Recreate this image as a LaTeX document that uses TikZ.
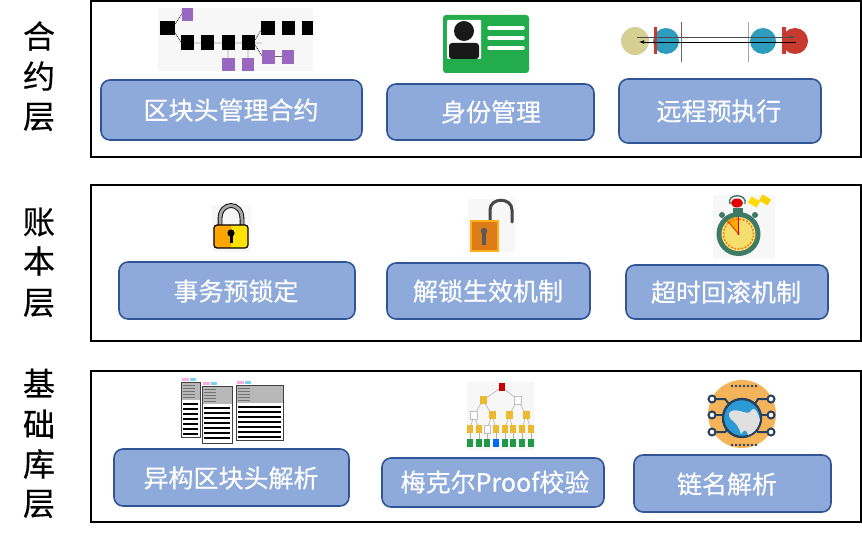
\documentclass[tikz,border=0pt]{standalone}
\usepackage{fontspec}
\setmainfont{Noto Sans CJK SC}
\newfontfamily\cjkm[FakeBold=0.35]{Noto Sans CJK SC}
\usetikzlibrary{arrows.meta}
\definecolor{btnfill}{HTML}{8EAADB}
\definecolor{btnline}{HTML}{2F5597}
\definecolor{pur}{HTML}{9966C0}
\definecolor{cardgreen}{HTML}{22AC4C}
\definecolor{ballblue}{HTML}{2E9DBD}
\definecolor{balltan}{HTML}{D6CF94}
\definecolor{ballred}{HTML}{C8392E}
\definecolor{watchgreen}{HTML}{3F7A66}
\definecolor{facey}{HTML}{F4DE6E}
\definecolor{merkley}{HTML}{EDB92E}
\definecolor{merkleg}{HTML}{1E9A46}
\definecolor{globeo}{HTML}{F6B45A}
\definecolor{globeb}{HTML}{2C9AD6}
\definecolor{navyd}{HTML}{27415F}
\tikzset{
  layerframe/.style={draw=black,line width=1.7pt,fill=none},
  btn/.style={draw=btnline,line width=1.6pt,fill=btnfill,rounded corners=9pt},
  btntext/.style={text=white,font=\cjkm\fontsize{25}{27}\selectfont,inner sep=0pt},
  sidetext/.style={text=black,font=\cjkm\fontsize{32}{34}\selectfont,inner sep=0pt},
  blk/.style={fill=black},
  purp/.style={fill=pur},
  conn/.style={draw=black!85,line width=.9pt,densely dotted},
  gline/.style={draw=black!15,line width=1.6pt},
}
\newcommand{\sq}[5]{\fill[#1] (#2,#3) rectangle (#4,#5);}
\newcommand{\docicon}[4]{% x0 y0 x1 y1
  \fill[pink!70!magenta!70] (#1+1,#2+1) rectangle (#1+8,#2+4);
  \fill[cyan!55] (#1+9,#2+1) rectangle (#1+15,#2+4);
  \fill[black!28] (#1,#2+5) rectangle (#3,#2+23);
  \foreach \yy in {8,11,14,17,20}{\draw[black!55,line width=.5pt] (#1+2,#2+\yy) -- (#1+14,#2+\yy);}
  \draw[black!75,line width=1pt] (#1,#2+5) rectangle (#3,#4);
  \foreach \yy in {27,32,...,57}{\draw[black,line width=2.2pt] (#1+2,#2+\yy) -- (#3-2,#2+\yy);}
}
\begin{document}
\begin{tikzpicture}[x=1pt,y=-1pt]
\useasboundingbox (0,0) rectangle (862,543);
% frames
\draw[layerframe] (91,1) rectangle (861,157);
\draw[layerframe] (91,185) rectangle (861,341);
\draw[layerframe] (91,371) rectangle (861,522);
% side labels
\node[sidetext] (s1) at (39,36) {合};
\node[sidetext] (s2) at (39,76) {约};
\node[sidetext] (s3) at (39,117) {层};
\node[sidetext] (s4) at (39,222) {账};
\node[sidetext] (s5) at (39,261) {本};
\node[sidetext] (s6) at (39,303) {层};
\node[sidetext] (s7) at (39,383) {基};
\node[sidetext] (s8) at (39,424) {础};
\node[sidetext] (s9) at (39,464) {库};
\node[sidetext] (s10) at (39,504) {层};
% buttons
\draw[btn] (101,80) rectangle (362,140);
\draw[btn] (387,84) rectangle (594,140);
\draw[btn] (619,79) rectangle (821,143);
\draw[btn] (119,262) rectangle (355,319);
\draw[btn] (387,263) rectangle (590,319);
\draw[btn] (626,265) rectangle (828,319);
\draw[btn] (114,449) rectangle (349,506);
\draw[btn] (382,458) rectangle (604,507);
\draw[btn] (634,455) rectangle (831,512);
\node[btntext] (b1) at (231,110) {区块头管理合约};
\node[btntext] (b2) at (491,112) {身份管理};
\node[btntext] (b3) at (719,111) {远程预执行};
\node[btntext] (b4) at (236,291) {事务预锁定};
\node[btntext] (b5) at (488,291) {解锁生效机制};
\node[btntext] (b6) at (726,292) {超时回滚机制};
\node[btntext] (b7) at (231,478) {异构区块头解析};
\node[btntext] (b8) at (495,482) {梅克尔Proof校验};
\node[btntext] (b9) at (727,484) {链名解析};
% icon: block tree
\fill[black!3] (158,8) rectangle (313,71);
\draw[gline] (194,43) -- (262,43);
\draw[gline] (228,50) -- (228,58);
\draw[gline] (248,50) -- (248,58);
\draw[draw=black!60,line width=1pt] (275,57) -- (282,57);
\draw[conn] (175,24) -- (182,14);
\draw[conn] (175,33) -- (181,42);
\draw[conn] (255,40) -- (261,30);
\draw[conn] (255,45) -- (262,56);
\sq{purp}{182}{8}{193}{21}
\foreach \xa/\xb/\ya/\yb in {160/175/21/35,181/194/35/50,201/214/35/50,222/235/35/50,242/255/35/50,261/275/21/35,282/295/21/35,302/313/21/35}{\sq{blk}{\xa}{\ya}{\xb}{\yb}}
\foreach \xa/\xb/\ya/\yb in {262/275/50/64,282/294/50/64,222/235/58/71,242/254/58/71}{\sq{purp}{\xa}{\ya}{\xb}{\yb}}
% icon: id card
\fill[cardgreen,rounded corners=3pt] (443,15) rectangle (529,73);
\fill[white,rounded corners=1pt] (447,20) rectangle (481,59);
\fill[black!90] (464,31) circle[radius=10pt];
\fill[black!90,rounded corners=3pt] (449,59) -- (449,43) -- (479,43) -- (479,59) -- cycle;
\foreach \yy in {28,38,48}{\draw[white,line width=3.5pt,line cap=round] (489,\yy) -- (523,\yy);}
% icon: remote execution
\draw[black!60,line width=.8pt] (681,22) -- (681,62);
\draw[black!35,line width=.8pt] (748,22) -- (748,62);
\fill[balltan] (635,41) circle[radius=14pt];
\fill[ballblue] (666,41) circle[radius=13pt];
\fill[ballblue] (763,41) circle[radius=13pt];
\fill[ballred] (795,41) circle[radius=13pt];
\fill[ballred] (653.5,27) rectangle (656.5,54);
\fill[ballred] (781.5,27) rectangle (785.5,54);
\draw[black!70,line width=.9pt,-{Latex[length=5pt]}] (637,37) -- (795,37);
\draw[black,line width=.9pt,-{Latex[length=5pt]}] (796,42) -- (639,42);
% icon: closed lock
\fill[black!3] (212,205) rectangle (251,252);
\draw[black,line width=4.8pt] (220,226) -- (220,219) .. controls (220,201) and (242,201) .. (242,219) -- (242,226);
\draw[black!35,line width=3pt] (220,226) -- (220,219) .. controls (220,201) and (242,201) .. (242,219) -- (242,226);
\fill[orange!70!yellow] (214,225) rectangle (231,248);
\fill[yellow!85!orange] (231,225) rectangle (248,248);
\draw[black,line width=1.2pt,rounded corners=3pt] (214,225) rectangle (248,248);
\fill[black] (231,233) circle[radius=3.6pt];
\fill[black] (229.5,234) rectangle (232.5,243);
% icon: open lock
\fill[black!3] (468,199) rectangle (515,252);
\draw[black!72,line width=3pt,line cap=round] (490,222) -- (490,210) .. controls (490,197) and (512,197) .. (512,210) -- (512,222);
\fill[orange!85!black!90,draw=orange!70!yellow!90,line width=1.5pt] (471,221) rectangle (498,251);
\fill[black!65] (484,231) circle[radius=3.2pt];
\fill[black!65] (482,233) rectangle (486,245);
% icon: stopwatch
\fill[black!3] (713,195) rectangle (775,258);
\draw[watchgreen,line width=1.4pt] (730,204) .. controls (726,193) and (748,193) .. (745,204);
\fill[watchgreen] (733,208) rectangle (743,213);
\fill[watchgreen] (722,215) circle[radius=3pt];
\fill[watchgreen] (755,215) circle[radius=3pt];
\fill[red!90!black] (737,203) ellipse[x radius=6pt,y radius=4.5pt];
\fill[watchgreen] (738.5,234) circle[radius=22pt];
\fill[facey] (738.5,234) circle[radius=17pt];
\fill[orange!65!yellow] (738.5,234) -- (738.5,217) arc[start angle=90,end angle=130,radius=17pt] -- cycle;
\draw[orange!80!red,line width=1.5pt,dotted] (738.5,234) circle[radius=15pt];
\draw[red!85!black,line width=1pt] (738.5,234) -- (738.5,217);
\draw[red!85!black,line width=.6pt] (738.5,234) -- (727.5,221);
\fill[red!85!black] (738.5,234) circle[radius=1.2pt];
\fill[yellow!80!orange,rotate around={-30:(754,202)}] (749,198.5) rectangle (759,205.5);
\fill[yellow!70!orange,rotate around={-30:(765,200)}] (760,196.5) rectangle (770,203.5);
% icon: documents
\docicon{181}{377}{200}{437}
\fill[white] (200.6,386) rectangle (201.6,443);
\docicon{202}{381}{232}{443}
\fill[white] (232.6,382) rectangle (235.4,443);
\docicon{236}{380}{283}{440}
% icon: merkle tree
\fill[black!3] (467,382) rectangle (534,450);
\foreach \xa/\ya/\xb/\yb in {502/387/483/400,502/387/518/400,483/400/474/415,483/400/492/415,518/400/509/415,518/400/526/415,474/415/470/429,474/415/479/429,492/415/487/429,492/415/496/429,509/415/505/429,509/415/513/429,526/415/522/429,526/415/531/429}{\draw[black!30,line width=.6pt] (\xa,\ya) -- (\xb,\yb);}
\foreach \xx in {470,479,487,496,505,513,522,531}{\draw[black!30,line width=.6pt] (\xx,429) -- (\xx,443);}
\fill[red!80!black] (499,383) rectangle (505,391);
\fill[merkley] (479.5,396) rectangle (486.5,404);
\fill[white,draw=black!25,line width=.4pt] (514.5,396) rectangle (521.5,404);
\fill[white,draw=black!25,line width=.4pt] (470.5,411) rectangle (477.5,419);
\foreach \xx in {492,509,526}{\fill[merkley] (\xx-3.5,411) rectangle (\xx+3.5,419);}
\foreach \xx in {470,479,496,505,513,522,531}{\fill[merkley] (\xx-3,425) rectangle (\xx+3,433);}
\fill[white,draw=black!25,line width=.4pt] (484,425) rectangle (490,433);
\foreach \xx in {470,479,487,505,513,522,531}{\fill[merkleg] (\xx-3,439) rectangle (\xx+3,447);}
\fill[blue!60!cyan] (493,439) rectangle (499,447);
% icon: globe
\fill[globeo] (742,414) circle[radius=34pt];
\foreach \xx in {732,736,...,756}{\fill[navyd] (\xx,386) circle[radius=1.4pt];\fill[navyd] (\xx,445) circle[radius=1.4pt];}
\draw[navyd,line width=2pt] (715,399) -- (725,399) -- (729,404);
\draw[navyd,line width=2pt] (715,415) -- (723,415);
\draw[navyd,line width=2pt] (715,432) -- (725,432) -- (729,428);
\draw[navyd,line width=2pt] (768,399) -- (758,399) -- (755,404);
\draw[navyd,line width=2pt] (768,415) -- (761,415);
\draw[navyd,line width=2pt] (768,432) -- (758,432) -- (755,428);
\foreach \yy in {399,415,432}{
  \fill[white,draw=navyd,line width=2pt] (712,\yy) circle[radius=3.5pt];
  \fill[white,draw=navyd,line width=2pt] (771,\yy) circle[radius=3.5pt];}
\fill[globeb,draw=navyd,line width=2.4pt] (742,418) circle[radius=19pt];
\fill[black!12] (730,412) .. controls (736,407) and (746,415) .. (750,412) .. controls (755,404) and (758,414) .. (760,420) .. controls (758,430) and (752,434) .. (748,435) .. controls (746,428) and (744,430) .. (741,434) .. controls (739,428) and (737,424) .. (732,420) .. controls (729,418) and (728,414) .. (730,412) -- cycle;
\end{tikzpicture}
\end{document}
